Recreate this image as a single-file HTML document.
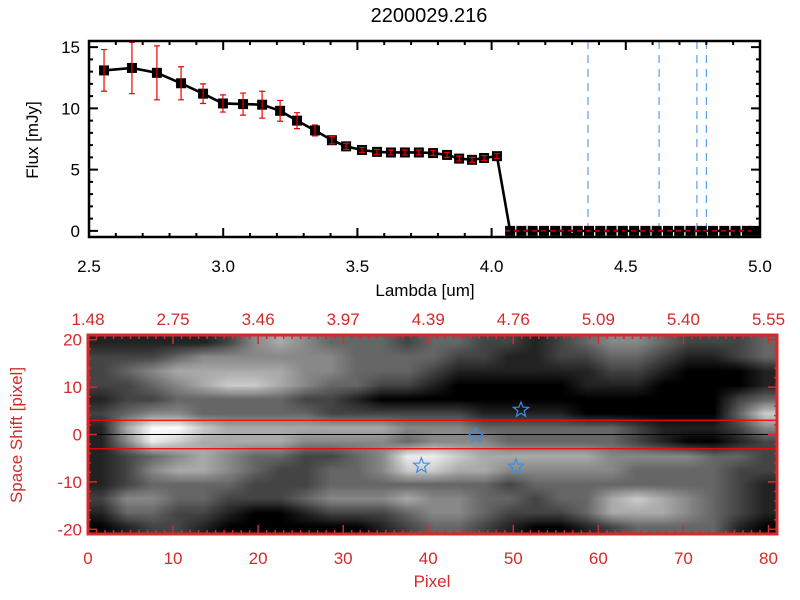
<!DOCTYPE html>
<html><head><meta charset="utf-8"><style>
body{margin:0;background:#fff;}
svg{display:block;font-family:"Liberation Sans",sans-serif;}
</style></head><body>
<svg id="root" width="800" height="600" viewBox="0 0 800 600">
<rect width="800" height="600" fill="#fff"/>
<text x="429" y="22" font-size="20" text-anchor="middle">2200029.216</text>
<g id="topg"></g>
<g id="bot"></g>
</svg>
<script>
// ---- Top chart data ----
const lambdas=[2.556,2.66,2.753,2.843,2.925,2.999,3.074,3.145,3.212,3.275,3.342,3.405,3.458,3.517,3.573,3.625,3.677,3.729,3.782,3.834,3.879,3.927,3.972,4.02];
const fluxes=[13.1,13.3,12.9,12.05,11.2,10.4,10.35,10.3,9.8,9.0,8.2,7.4,6.9,6.6,6.45,6.4,6.4,6.4,6.35,6.2,5.9,5.8,5.95,6.1];
const fluxErrs=[1.7,2.1,2.2,1.35,0.8,0.7,0.9,1.1,0.85,0.65,0.45,0.3,0.25,0.2,0.2,0.2,0.2,0.2,0.2,0.2,0.2,0.2,0.2,0.2];
const zeroLambdas=[4.069,4.111,4.153,4.195,4.237,4.279,4.321,4.363,4.405,4.447,4.489,4.531,4.573,4.615,4.657,4.699,4.741,4.783,4.825,4.867,4.909,4.951,4.978];
const lineLambdas=[4.359,4.624,4.765,4.80];
const xTicks=[2.5,3.0,3.5,4.0,4.5,5.0];
const yTicks=[0,5,10,15];
// ---- Bottom chart data ----
const pixelTicks=[0,10,20,30,40,50,60,70,80];
const topLabels=["1.48","2.75","3.46","3.97","4.39","4.76","5.09","5.40","5.55"];
const shiftTicks=[20,10,0,-10,-20];
const starX=[50.9,45.6,39.2,50.3];
const starY=[5.2,-0.3,-6.6,-6.8];
const bandLines=[3,-3];
const imgRows=[
"111112454333233221234432223",
"222344444433332211223321123",
"234555554433321111112210001",
"223456654332210000011100001",
"122333332210000000000000023",
"234433333222222111100000036",
"159865555555444333333211124",
"147655554444344433333210012",
"123454332234776555554444332",
"124554322334665544444333322",
"123333222333333323333333321",
"244332223444544332335654321",
"133221001222344322235554321",
"012210000001233210012333310"];

const NS="http://www.w3.org/2000/svg";
function mk(p,t,a){const e=document.createElementNS(NS,t);for(const k in a)e.setAttribute(k,a[k]);p.appendChild(e);return e;}
const tg=document.getElementById('topg'),bot=document.getElementById('bot');

const X0=89,X1=760,Y0=41,Y1=237;
const xs=v=>X0+(v-2.5)*(X1-X0)/2.5;
const ys=v=>Y1-(v+0.5)*(Y1-Y0)/16;
lineLambdas.forEach(l=>{const e=mk(tg,'line',{x1:xs(l),x2:xs(l),y1:Y0,y2:Y1,stroke:'#3a8ee6','stroke-width':1,'stroke-dasharray':'8,6'});

});
let pts=lambdas.map((l,i)=>xs(l)+','+ys(fluxes[i]));
pts=pts.concat(zeroLambdas.map(l=>xs(l)+','+ys(0)));
const pl=mk(tg,'polyline',{points:pts.join(' '),fill:'none',stroke:'#000','stroke-width':2.6});


lambdas.forEach((l,i)=>{const x=xs(l),y=ys(fluxes[i]);
const r=mk(tg,'rect',{x:x-5,y:y-5,width:10,height:10,fill:'#000'});


const yt=Math.max(Y0,ys(fluxes[i]+fluxErrs[i])),yb=ys(fluxes[i]-fluxErrs[i]);
const g=mk(tg,'path',{d:`M${x},${yt}V${yb}M${x-3},${yt}H${x+3}M${x-3},${yb}H${x+3}`,stroke:'#e00',fill:'none','stroke-width':1.2});

});
zeroLambdas.forEach(l=>{const r=mk(tg,'rect',{x:xs(l)-5,y:ys(0)-5,width:10,height:10,fill:'#000'});

});
mk(tg,'line',{x1:xs(4.05),x2:X1,y1:ys(0),y2:ys(0),stroke:'#e00','stroke-width':1.2,'stroke-dasharray':'5,4'});
mk(tg,'rect',{x:X0,y:Y0,width:X1-X0,height:Y1-Y0,fill:'none',stroke:'#000','stroke-width':2.5});
for(let v=2.5;v<=5.001;v+=0.1){const x=xs(v);const maj=Math.abs(v*2-Math.round(v*2))<1e-6;const L=maj?9:4;
mk(tg,'path',{d:`M${x},${Y1}v${-L}M${x},${Y0}v${L}`,stroke:'#000','stroke-width':2});}
for(let v=0;v<=15;v++){const y=ys(v);const L=v%5==0?9:4;mk(tg,'path',{d:`M${X0},${y}h${L}M${X1},${y}h${-L}`,stroke:'#000','stroke-width':2});}
xTicks.forEach(v=>{const t=mk(tg,'text',{x:xs(v),y:272,'font-size':17,'text-anchor':'middle'});t.textContent=v.toFixed(1);

});
yTicks.forEach(v=>{const t=mk(tg,'text',{x:80,y:ys(v)+6,'font-size':17,'text-anchor':'end'});t.textContent=v;

});
let tx=mk(tg,'text',{x:425,y:296,'font-size':17,'text-anchor':'middle'});tx.textContent='Lambda [um]';


tx=mk(tg,'text',{x:0,y:0,'font-size':17,'text-anchor':'middle',transform:'translate(38,140) rotate(-90)'});tx.textContent='Flux [mJy]';



const BX0=88,BX1=777,BY0=335,BY1=534;const RED='#d42a2a';
const px=v=>BX0+v*(BX1-BX0)/81;
const py=v=>BY0+(21-v)*(BY1-BY0)/42;
const fo=mk(bot,'foreignObject',{x:BX0,y:BY0,width:BX1-BX0,height:BY1-BY0});
const cv=document.createElement('canvas');cv.width=BX1-BX0;cv.height=BY1-BY0;cv.style.display='block';


fo.appendChild(cv);
const sm=document.createElement('canvas');sm.width=27;sm.height=14;const sc=sm.getContext('2d');
const imd=sc.createImageData(27,14);
imgRows.forEach((row,r)=>{for(let c=0;c<27;c++){const g=Math.min(255,Math.round(+row[c]*255/7.5));const k=(r*27+c)*4;imd.data[k]=imd.data[k+1]=imd.data[k+2]=g;imd.data[k+3]=255;}});
sc.putImageData(imd,0,0);
const cctx=cv.getContext('2d');cctx.imageSmoothingEnabled=true;cctx.fillStyle='#000';cctx.fillRect(0,0,cv.width,cv.height);
cctx.drawImage(sm,0,0,cv.width,cv.height);
mk(bot,'line',{x1:BX0,x2:BX1,y1:py(0),y2:py(0),stroke:'#000','stroke-width':1});
bandLines.forEach(v=>{const e=mk(bot,'line',{x1:BX0,x2:BX1,y1:py(v),y2:py(v),stroke:'#f00','stroke-width':1.2});

});
function starPath(cx0,cy0,R){let d='';for(let i=0;i<10;i++){const a=-Math.PI/2+i*Math.PI/5;const rr=i%2?R*0.42:R;d+=(i?'L':'M')+(cx0+rr*Math.cos(a)).toFixed(1)+','+(cy0+rr*Math.sin(a)).toFixed(1);}return d+'Z';}
starX.forEach((v,i)=>{const s=mk(bot,'path',{d:starPath(px(v),py(starY[i]),8),fill:'none',stroke:'#3a8ee6','stroke-width':1.2});

});
mk(bot,'rect',{x:BX0,y:BY0,width:BX1-BX0,height:BY1-BY0,fill:'none',stroke:RED,'stroke-width':3});
for(let v=0;v<=81;v++){const x=px(v);const L=v%10==0?9:4;mk(bot,'path',{d:`M${x},${BY1}v${-L}M${x},${BY0}v${L}`,stroke:RED,'stroke-width':1.5});}
for(let v=-20;v<=20;v+=2){const y=py(v);const L=v%10==0?9:3;mk(bot,'path',{d:`M${BX0},${y}h${L}M${BX1},${y}h${-L}`,stroke:RED,'stroke-width':1.5});}
pixelTicks.forEach((v,i)=>{let e=mk(bot,'text',{x:px(v),y:564,'font-size':17,'text-anchor':'middle',fill:RED});e.textContent=v;


e=mk(bot,'text',{x:px(v),y:325,'font-size':17,'text-anchor':'middle',fill:RED});e.textContent=topLabels[i];

});
shiftTicks.forEach(v=>{const e=mk(bot,'text',{x:82,y:py(v)+6,'font-size':17,'text-anchor':'end',fill:RED});e.textContent=v;

});
tx=mk(bot,'text',{x:432,y:587,'font-size':17,'text-anchor':'middle',fill:RED});tx.textContent='Pixel';


tx=mk(bot,'text',{x:0,y:0,'font-size':17,'text-anchor':'middle',fill:RED,transform:'translate(22,435) rotate(-90)'});tx.textContent='Space Shift [pixel]';


</script>
</body></html>
